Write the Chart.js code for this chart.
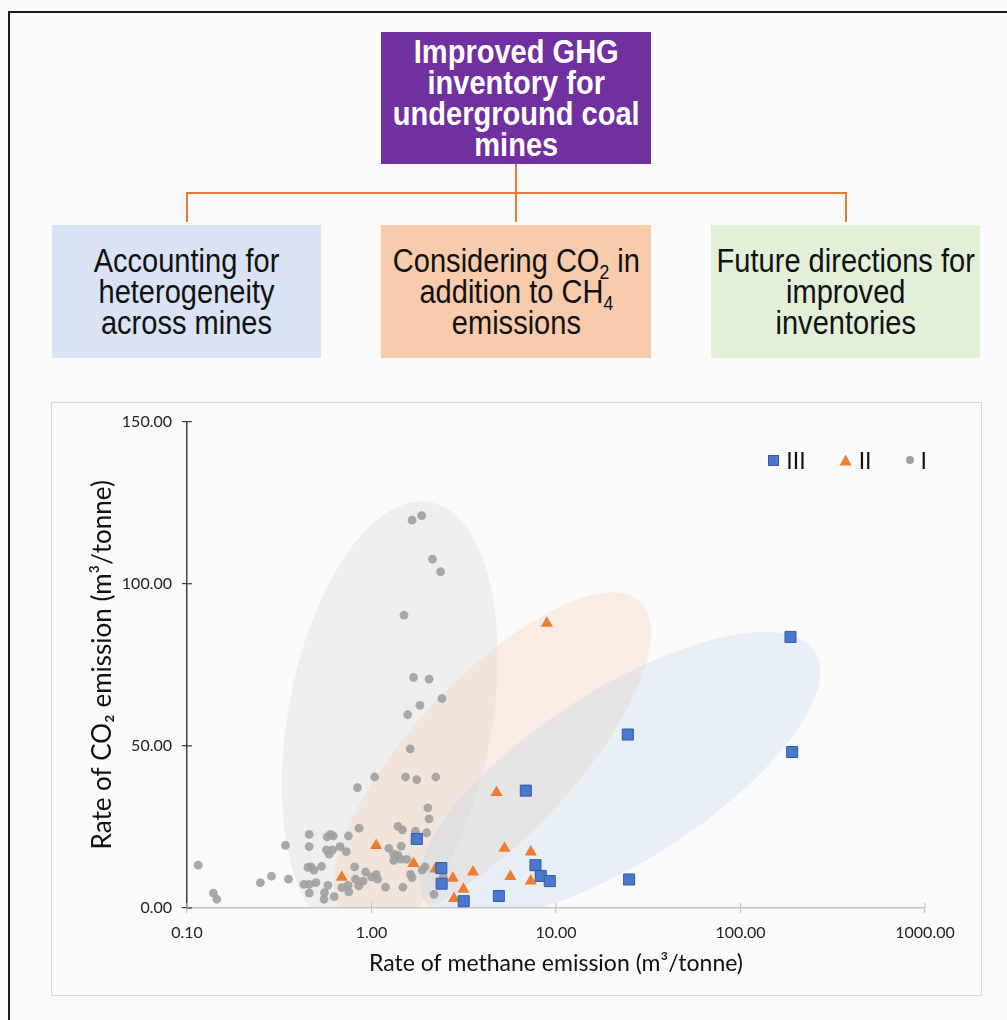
<!DOCTYPE html>
<html>
<head>
<meta charset="utf-8">
<title>GHG inventory for underground coal mines</title>
<script src="https://cdn.jsdelivr.net/npm/chart.js@4.4.1/dist/chart.umd.min.js"></script>
<style>
  body { margin:0; width:1007px; height:1020px; background:#fafafa; position:relative; overflow:hidden; }
  .frame { position:absolute; left:8px; top:11px; right:-4px; bottom:-4px; border-left:2px solid #1a1a1a; border-top:2px solid #1a1a1a; }
  .box { position:absolute; display:flex; align-items:center; justify-content:center; text-align:center;
         font-family:"Liberation Sans Narrow","Arial Narrow","Liberation Sans",Arial,sans-serif;
         font-size:33px; line-height:31px; color:#111; }
  .box .t { white-space:nowrap; transform:scaleX(0.88); }
  .box sub { font-size:20px; line-height:0; vertical-align:-7px; }
  .top { left:381px; top:32px; width:270px; height:132px; background:#7030a0; color:#fff; font-weight:bold; }
  .b1 { left:52px; top:225px; width:269px; height:133px; background:#dae3f3; }
  .b2 { left:381px; top:225px; width:270px; height:133px; background:#f8cbad; }
  .b3 { left:711px; top:225px; width:269px; height:133px; background:#e2f0d9; }
  .ln { position:absolute; background:#e07b39; }
  .panel { position:absolute; left:51px; top:402px; width:929px; height:592px; border:1px solid #d9d9d9; box-sizing:content-box; }
  #chart { position:absolute; left:51px; top:402px; }
  .legend { position:absolute; top:446px; right:80px; display:flex; align-items:center; gap:34px;
            font-family:Lato, sans-serif; font-size:23px; color:#111; }
  .legend .item { display:flex; align-items:center; gap:7px; }
  .legend .mk { display:inline-block; }
</style>
</head>
<body>
<div class="frame"></div>

<div class="box top"><div class="t">Improved GHG<br>inventory for<br>underground coal<br>mines</div></div>
<div class="ln" style="left:515px; top:164px; width:2px; height:58px;"></div>
<div class="ln" style="left:186px; top:192px; width:661px; height:2px;"></div>
<div class="ln" style="left:186px; top:192px; width:2px; height:30px;"></div>
<div class="ln" style="left:845px; top:192px; width:2px; height:30px;"></div>
<div class="box b1"><div class="t">Accounting for<br>heterogeneity<br>across mines</div></div>
<div class="box b2"><div class="t">Considering CO<sub>2</sub> in<br>addition to CH<sub>4</sub><br>emissions</div></div>
<div class="box b3"><div class="t">Future directions for<br>improved<br>inventories</div></div>

<div class="panel"></div>
<canvas id="chart" width="930" height="593"></canvas>
<div class="legend" id="legend"></div>

<script>
/* ── Data ──────────────────────────────────────────────────── */

// Group III: blue squares
const methaneIII = [186.6, 190.5, 24.5, 24.9, 6.86, 1.76, 2.39, 2.40, 3.16, 4.9, 7.74, 8.27, 9.25];
const co2III     = [83.6, 48.1, 53.5, 8.8, 36.2, 21.3, 12.3, 7.5, 2.1, 3.7, 13.2, 9.9, 8.3];

// Group II: orange triangles
const methaneII = [8.92, 4.76, 5.26, 7.30, 1.06, 1.69, 2.22, 0.69, 2.76, 3.55, 3.15, 2.80, 5.66, 7.30];
const co2II     = [87.8, 35.6, 18.4, 17.3, 19.3, 13.7, 12.0, 9.5, 9.2, 11.1, 5.8, 2.9, 9.7, 8.3];

// Group I: grey dots
const methaneI = [1.66, 1.87, 2.14, 2.37, 1.50, 1.69, 2.05, 2.41, 1.83, 1.57,
                  1.62, 1.04, 1.53, 1.76, 2.23, 0.84, 2.02, 2.05, 0.857, 1.39,
                  1.47, 1.73, 1.99, 0.459, 0.575, 0.60, 0.62, 0.75, 0.342, 0.459,
                  0.676, 0.57, 0.615, 0.589, 0.73, 1.24, 1.45, 1.32, 1.39, 1.32,
                  1.44, 1.55, 0.452, 0.47, 0.487, 0.536, 0.809, 0.928, 1.06, 1.0,
                  1.08, 0.82, 0.90, 0.853, 0.747, 0.753, 0.69, 0.58, 0.50, 0.46,
                  0.43, 0.46, 0.556, 0.553, 0.627, 0.355, 0.287, 0.25, 0.115, 0.139,
                  0.145, 1.19, 1.48, 1.63, 1.66, 1.88, 1.95, 2.45, 2.18];
const co2I     = [119.6, 121.0, 107.6, 103.7, 90.3, 71.1, 70.6, 64.6, 62.5, 59.6,
                  49.1, 40.4, 40.4, 39.6, 40.4, 37.1, 30.9, 27.5, 24.6, 25.2,
                  24.1, 23.7, 23.2, 22.7, 21.9, 22.7, 22.2, 22.2, 19.3, 18.9,
                  18.9, 17.9, 17.9, 16.6, 17.4, 18.4, 19.1, 16.6, 16.2, 14.7,
                  15.1, 15.0, 12.5, 12.7, 11.7, 12.8, 12.7, 11.1, 10.3, 9.6,
                  8.9, 8.9, 8.3, 6.8, 7.0, 5.0, 6.3, 7.0, 7.8, 7.3,
                  7.3, 4.6, 4.7, 2.7, 3.5, 8.9, 9.8, 7.8, 13.2, 4.6,
                  2.7, 6.4, 6.4, 10.4, 9.4, 11.7, 12.7, 9.8, 4.2];

const groupLabels = ["III", "II", "I"];

// Axis ticks
const xTicks = [0.1, 1, 10, 100, 1000];
const yTicks = [0, 50, 100, 150];

// Group envelopes: ends of the long axis, in data units (methane, CO2)
const envelopeI   = [[0.763, -9.8], [2.07, 125.2]];
const envelopeII  = [[0.717, -2.1], [28.5, 94.5]];
const envelopeIII = [[1.94, 2.5], [253, 79.1]];

/* ── Styles ────────────────────────────────────────────────── */

const FONT = "Lato, 'Open Sans', sans-serif";
const envelopeStyles = [
  { ends: envelopeI,   minor: 102, fill: "rgba(205,205,205,0.26)" },
  { ends: envelopeII,  minor: 80,  fill: "rgba(248,196,160,0.26)" },
  { ends: envelopeIII, minor: 86,  fill: "rgba(189,213,238,0.30)" },
];

const toPoints = (xs, ys) => xs.map((x, i) => ({ x, y: ys[i] }));

/* ── Plugins ───────────────────────────────────────────────── */

const envelopePlugin = {
  id: "envelopes",
  beforeDatasetsDraw(chart) {
    const { ctx, chartArea: a, scales: { x, y } } = chart;
    ctx.save();
    ctx.beginPath();
    ctx.rect(a.left, a.top, a.right - a.left, a.bottom - a.top);
    ctx.clip();
    envelopeStyles.forEach(e => {
      const x1 = x.getPixelForValue(e.ends[0][0]), y1 = y.getPixelForValue(e.ends[0][1]);
      const x2 = x.getPixelForValue(e.ends[1][0]), y2 = y.getPixelForValue(e.ends[1][1]);
      const cx = (x1 + x2) / 2, cy = (y1 + y2) / 2;
      const major = Math.hypot(x2 - x1, y2 - y1) / 2;
      ctx.beginPath();
      ctx.ellipse(cx, cy, major, e.minor, Math.atan2(y2 - y1, x2 - x1), 0, Math.PI * 2);
      ctx.fillStyle = e.fill;
      ctx.fill();
    });
    ctx.restore();
  }
};

// tick marks that cross the axis line (inner half)
const crossTicks = {
  id: "crossTicks",
  afterDraw(chart) {
    const { ctx, chartArea: a, scales: { x, y } } = chart;
    ctx.save();
    ctx.lineWidth = 1.2;
    ctx.strokeStyle = "#404040";
    y.ticks.forEach(t => {
      const py = y.getPixelForValue(t.value);
      ctx.beginPath(); ctx.moveTo(a.left, py); ctx.lineTo(a.left + 5, py); ctx.stroke();
    });
    ctx.strokeStyle = "#c4c4c4";
    x.ticks.forEach(t => {
      const px = x.getPixelForValue(t.value);
      ctx.beginPath(); ctx.moveTo(px, a.bottom); ctx.lineTo(px, a.bottom - 5); ctx.stroke();
    });
    ctx.restore();
  }
};

/* ── Chart ─────────────────────────────────────────────────── */

const datasets = [
  {
    label: groupLabels[0],
    data: toPoints(methaneIII, co2III),
    pointStyle: "rect", pointRadius: 7.8,
    backgroundColor: "#4a78cc", borderColor: "#2f5aa8", borderWidth: 1,
  },
  {
    label: groupLabels[1],
    data: toPoints(methaneII, co2II),
    pointStyle: "triangle", pointRadius: 7,
    backgroundColor: "#ed7d31", borderColor: "#ed7d31", borderWidth: 0,
  },
  {
    label: groupLabels[2],
    data: toPoints(methaneI, co2I),
    pointStyle: "circle", pointRadius: 4.4,
    backgroundColor: "rgba(160,160,160,0.9)", borderColor: "rgba(160,160,160,0.9)", borderWidth: 0,
  },
];

new Chart(document.getElementById("chart"), {
  type: "scatter",
  data: { datasets },
  options: {
    responsive: false,
    animation: false,
    layout: { padding: { top: 18, right: 56, left: 0, bottom: 0 } },
    plugins: { legend: { display: false }, tooltip: { enabled: false } },
    scales: {
      x: {
        type: "logarithmic",
        min: 0.1, max: 1000,
        afterBuildTicks: s => { s.ticks = xTicks.map(v => ({ value: v })); },
        afterFit: s => { s.height = 87; },
        ticks: {
          color: "#222", padding: 10, maxRotation: 0, autoSkip: false,
          font: { family: FONT, size: 16 },
          callback: v => Number(v).toFixed(2),
        },
        grid: { drawOnChartArea: false, drawTicks: true, tickLength: 5, color: "#c4c4c4", lineWidth: 1.2 },
        border: { display: true, color: "#c4c4c4", width: 1.5 },
        title: {
          display: true,
          text: "Rate of methane emission (m\u00b3/tonne)",
          color: "#111",
          font: { family: FONT, size: 23 },
          padding: { top: 0, bottom: 18 },
        },
      },
      y: {
        min: 0, max: 150,
        afterBuildTicks: s => { s.ticks = yTicks.map(v => ({ value: v })); },
        afterFit: s => { s.width = 136; },
        ticks: {
          color: "#222", padding: 10,
          font: { family: FONT, size: 16 },
          callback: v => Number(v).toFixed(2),
        },
        grid: { drawOnChartArea: false, drawTicks: true, tickLength: 5, color: "#404040", lineWidth: 1.2 },
        border: { display: true, color: "#404040", width: 1.5 },
        title: {
          display: true,
          text: "Rate of CO\u2082 emission (m\u00b3/tonne)",
          color: "#111",
          font: { family: FONT, size: 26 },
          padding: { top: 36, bottom: 0 },
        },
      },
    },
  },
  plugins: [envelopePlugin, crossTicks],
});

/* ── Legend (top right of plot) ────────────────────────────── */

const legendMarks = [
  `<span class="mk" style="width:11px;height:11px;background:#4a78cc;border:1px solid #2f5aa8;box-sizing:border-box"></span>`,
  `<span class="mk" style="width:12px;height:11px;background:#ed7d31;clip-path:polygon(50% 0,100% 100%,0 100%)"></span>`,
  `<span class="mk" style="width:8px;height:8px;border-radius:50%;background:#a0a0a0"></span>`,
];
document.getElementById("legend").innerHTML = groupLabels
  .map((lab, i) => `<span class="item">${legendMarks[i]}<span>${lab}</span></span>`)
  .join("");
</script>
</body>
</html>
